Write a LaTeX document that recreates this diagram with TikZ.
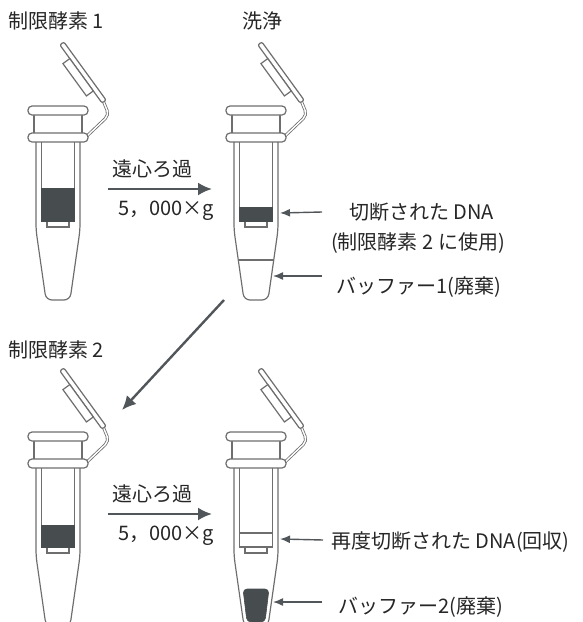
\documentclass[tikz,border=0pt]{standalone}
\usepackage{fontspec}
\newfontfamily\jpfont{Noto Sans CJK JP}
\usetikzlibrary{arrows.meta,positioning}
\definecolor{wallgray}{HTML}{6E6E6E}
\definecolor{gelgray}{HTML}{474C4F}
\definecolor{arrowgray}{HTML}{50565A}
\definecolor{inkgray}{HTML}{262626}

\begin{document}
\begin{tikzpicture}[
  x=1pt, y=-1pt,
  wall/.style={draw=wallgray, line width=1.2pt},
  gel/.style={fill=gelgray, draw=gelgray, line width=0.6pt},
  lbl/.style={font=\jpfont\fontsize{20}{24}\selectfont, text=inkgray, inner sep=0pt},
  spin/.style={-{Latex[length=14pt,width=13pt]}, draw=arrowgray, line width=2.4pt},
  pointer/.style={-{Latex[length=10pt,width=8pt]}, draw=arrowgray, line width=1.4pt},
  tube/.pic={
    % hinge strap, lid and plug
    \draw[draw=wallgray, line width=0.8pt, double=white, double distance=1.4pt, rounded corners=5]
      (44,-8) -- (51,9) -- (29,30);
    \begin{scope}[shift={(5,-61)}, rotate=-54]
      \draw[wall, fill=white, rounded corners=2] (-2,-2.5) rectangle (70,2.5);
      \draw[wall, fill=white] (15,2.5) rectangle (55,11);
    \end{scope}
    % rims
    \draw[wall] (-24,9) -- (-24,27) (24,9) -- (24,27);
    \draw[wall, fill=white, rounded corners=4] (-30,0) rectangle (30,9);
    \draw[wall, fill=white, rounded corners=4] (-30,27) rectangle (30,36);
    % body and filter column
    \draw[wall, rounded corners=6] (-22,36) -- (-22,124) -- (-12,194) -- (12,194) -- (22,124) -- (22,36);
    \draw[wall] (-16.5,36) -- (-16.5,115) -- (16.5,115) -- (16.5,36);
    \draw[wall] (-11,115) rectangle (11,121);
  }
]
\useasboundingbox (0,0) rectangle (582,622);
\clip (0,0) rectangle (582,622);

\pic (tubeA) at (58,106) {tube};
\pic (tubeB) at (256,106) {tube};
\pic (tubeC) at (58,432) {tube};
\pic (tubeD) at (256,432) {tube};

\begin{scope}[shift={(58,106)}]
  \draw[gel] (-16.5,82) rectangle (16.5,115);
\end{scope}
\begin{scope}[shift={(256,106)}]
  \draw[gel] (-16.5,101) rectangle (16.5,115);
  \draw[wall] (-17.5,154) -- (17.5,154);
\end{scope}
\begin{scope}[shift={(58,432)}]
  \draw[gel] (-16.5,93) rectangle (16.5,115);
\end{scope}
\begin{scope}[shift={(256,432)}]
  \draw[wall] (-16.5,101) -- (16.5,101);
  \draw[gel, rounded corners=4] (-13,157) -- (13,157) -- (9,190) -- (-9,190) -- cycle;
\end{scope}

\node[lbl, anchor=west] (enzA) at (8,21) {制限酵素 1};
\node[lbl] (wash) at (262,21) {洗浄};
\node[lbl, anchor=west] (enzB) at (8,350) {制限酵素 2};

\coordinate (spinAs) at (108,189);
\coordinate (spinAe) at (212,189);
\draw[spin] (spinAs) -- (spinAe);
\node[lbl] (spinAtop) at (152,169) {遠心ろ過};
\node[lbl] (spinAbot) at (166,211) {5，000×g};

\coordinate (spinBs) at (108,514);
\coordinate (spinBe) at (212,514);
\draw[spin] (spinBs) -- (spinBe);
\node[lbl] (spinBtop) at (152,494) {遠心ろ過};
\node[lbl] (spinBbot) at (166,536) {5，000×g};

\coordinate (nextTail) at (224,300);
\coordinate (nextHead) at (122,410);
\draw[spin] (nextTail) -- (nextHead);

\node[lbl, anchor=west] (cutA) at (349,212) {切断された DNA};
\node[lbl, anchor=west] (cutUse) at (331,243) {(制限酵素 2 に使用)};
\node[lbl, anchor=west] (bufA) at (336,287) {バッファー1(廃棄)};
\node[lbl, anchor=west] (cutB) at (331,542) {再度切断された DNA(回収)};
\node[lbl, anchor=west] (bufB) at (338,607) {バッファー2(廃棄)};

\coordinate (dnaA) at (280,213);
\coordinate (bufAtip) at (273,276);
\coordinate (dnaB) at (280,539);
\coordinate (bufBtip) at (273,602);
\draw[pointer] ([xshift=-27pt]cutA.west) -- (dnaA);
\draw[pointer] ([xshift=-14pt,yshift=11pt]bufA.west) -- (bufAtip);
\draw[pointer] ([xshift=-8pt,yshift=2pt]cutB.west) -- (dnaB);
\draw[pointer] ([xshift=-16pt,yshift=5pt]bufB.west) -- (bufBtip);
\end{tikzpicture}
\end{document}
